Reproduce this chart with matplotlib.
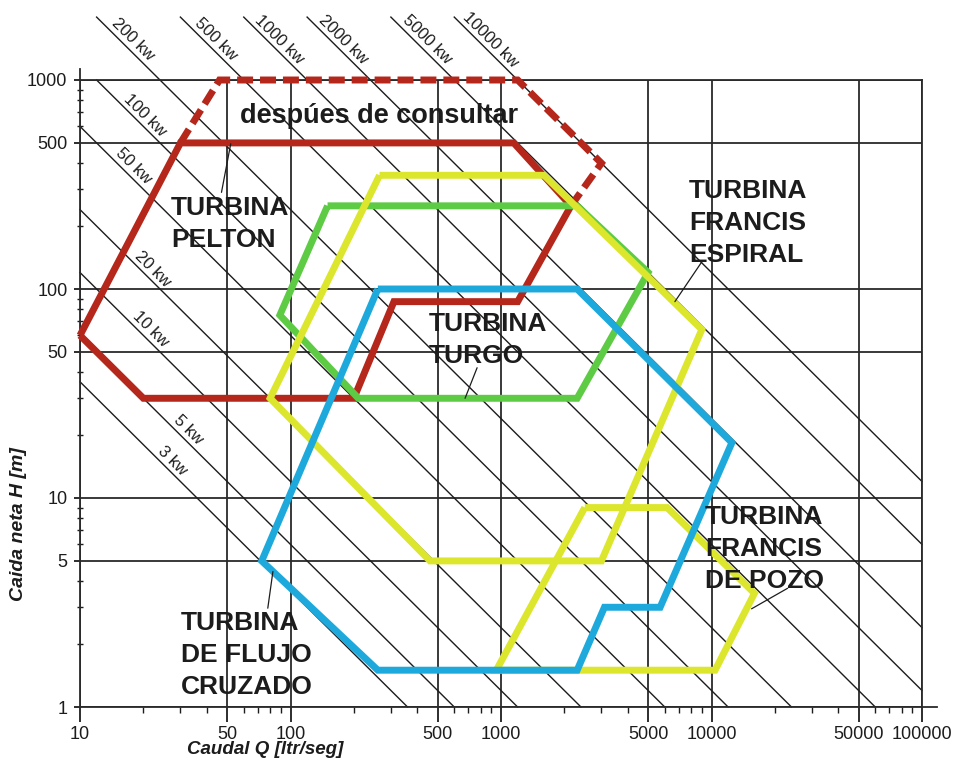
import numpy as np
import matplotlib
matplotlib.use("Agg")
import matplotlib.pyplot as plt
from matplotlib.ticker import LogLocator, NullFormatter, FixedLocator

plt.rcParams['font.family'] = ['Liberation Sans', 'DejaVu Sans']

W, H = 958, 766

# ---- data -------------------------------------------------------------
# power iso-lines in kW, P = 9.81 * eta * Q[l/s] * H[m] / 1000
power_kw = [3, 5, 10, 20, 50, 100, 200, 500, 1000, 2000, 5000, 10000]
eta = 0.85
# Q position (l/s) of the labels drawn inside the plot area
inner_label_q = {3: 25.6, 5: 30.5, 10: 20.1, 20: 20.6, 50: 16.7, 100: 19.0}
top_label_h = 1450      # head at which the upper labels sit
top_line_h = 2000       # upper lines run out above the frame up to this head

x_ticks = [10, 50, 100, 500, 1000, 5000, 10000, 50000, 100000]
x_tick_labels = ['10', '50', '100', '500', '1000', '5000', '10000', '50000', '100000']
y_ticks = [1, 5, 10, 50, 100, 500, 1000]
y_tick_labels = ['1', '5', '10', '50', '100', '500', '1000']

# application ranges (Q in l/s, H in m)
pelton_q = [10, 30, 1150, 2150, 1200, 310, 200, 20, 10]
pelton_h = [60, 500, 500, 250, 87, 87, 30, 30, 60]
pelton_ext_q = [30, 46, 1200, 3000, 2150]
pelton_ext_h = [500, 1000, 1000, 400, 250]

turgo_q = [150, 2300, 5000, 2300, 210, 89, 150]
turgo_h = [250, 250, 120, 30, 30, 75, 250]

espiral_q = [265, 1600, 9000, 3000, 460, 80, 265]
espiral_h = [350, 350, 64, 5, 5, 30, 350]

pozo_q = [2500, 6150, 16000, 10400, 950, 2500]
pozo_h = [9, 9, 3.5, 1.5, 1.5, 9]

flujo_q = [260, 2300, 12500, 5700, 3100, 2300, 260, 73, 260]
flujo_h = [100, 100, 18.4, 3, 3, 1.5, 1.5, 5, 100]

RED = '#B5261B'
YELLOW = '#DCE62C'
GREEN = '#5ECB45'
BLUE = '#1EA9DD'
INK = '#1c1c1c'

# ---- figure -------------------------------------------------------------
fig = plt.figure(figsize=(W / 100, H / 100), dpi=100)
ax = fig.add_axes([80 / W, 59 / H, 842 / W, 627 / H])
ax.set_xscale('log')
ax.set_yscale('log')
ax.set_xlim(10, 1e5)
ax.set_ylim(1, 1000)

ax.xaxis.set_major_locator(FixedLocator(x_ticks))
ax.set_xticklabels(x_tick_labels)
ax.yaxis.set_major_locator(FixedLocator(y_ticks))
ax.set_yticklabels(y_tick_labels)
for axis in (ax.xaxis, ax.yaxis):
    axis.set_minor_locator(LogLocator(base=10, subs=[2, 3, 4, 6, 7, 8, 9]))
    axis.set_minor_formatter(NullFormatter())

ax.tick_params(axis='x', which='major', length=11, width=1.3, direction='out',
               pad=3, labelsize=13, colors=INK)
ax.tick_params(axis='y', which='major', length=4, width=1.3, direction='out',
               pad=5, labelsize=13, colors=INK)
ax.tick_params(axis='x', which='minor', length=4, width=1.0, direction='out', color=INK)
ax.tick_params(axis='y', which='minor', length=5, width=1.0, direction='inout', color=INK)

ax.grid(True, which='major', color='#2a2a2a', lw=1.3)
ax.grid(False, which='minor')
for sp in ax.spines.values():
    sp.set_color('#2a2a2a')
    sp.set_linewidth(1.3)

# short axis run-outs
ax.plot([1, 1.018], [0, 0], transform=ax.transAxes, color='#2a2a2a', lw=1.3, clip_on=False)
ax.plot([0, 0], [1, 1.018], transform=ax.transAxes, color='#2a2a2a', lw=1.3, clip_on=False)

# ---- power lines -------------------------------------------------------
k = 9.81 * eta / 1000.0
p0 = ax.transData.transform((10, 1000))
p1 = ax.transData.transform((100, 100))
angle = np.degrees(np.arctan2(p1[1] - p0[1], p1[0] - p0[0]))
perp = np.radians(angle + 90)
off = (1.2 * np.cos(perp), 1.2 * np.sin(perp))

for p in power_kw:
    c = p / k
    if p >= 200:
        q_start = c / top_line_h
    else:
        q_start = max(10.0, c / 1000.0)
    q_end = min(c, 1e5)
    qs = np.array([q_start, q_end])
    ax.plot(qs, c / qs, color=INK, lw=1.0, clip_on=False, zorder=2)
    if p in inner_label_q:
        ql = inner_label_q[p]
    else:
        ql = c / top_label_h
    ax.annotate(f'{p} kw', xy=(ql, c / ql), xytext=off, textcoords='offset points',
                rotation=angle, rotation_mode='anchor', ha='center', va='bottom',
                fontsize=12, color=INK, annotation_clip=False, zorder=3)

# ---- turbine ranges ------------------------------------------------------
style = dict(lw=5, solid_joinstyle='miter', solid_capstyle='butt', clip_on=False)
ax.plot(pelton_ext_q, pelton_ext_h, color=RED, lw=5, linestyle=(0, (2.3, 1.0)),
        dash_capstyle='butt', dash_joinstyle='miter', clip_on=False, zorder=4)
ax.plot(pelton_q, pelton_h, color=RED, zorder=4, **style)
ax.plot(turgo_q, turgo_h, color=GREEN, zorder=5, **style)
ax.plot(espiral_q, espiral_h, color=YELLOW, zorder=6, **style)
ax.plot(pozo_q, pozo_h, color=YELLOW, zorder=6, **style)
ax.plot(flujo_q, flujo_h, color=BLUE, zorder=7, **style)

# leader lines from the labels to their ranges
leaders = [((47, 290), (52, 495)),
           ((770, 42), (675, 30)),
           ((9000, 135), (6700, 87)),
           ((23000, 3.7), (15500, 2.95)),
           ((78, 2.97), (82.5, 4.45))]
for start, end in leaders:
    ax.annotate('', xy=end, xytext=start,
                arrowprops=dict(arrowstyle='-', color=INK, lw=0.9, shrinkA=0, shrinkB=0),
                zorder=8)

# ---- texts ---------------------------------------------------------------
def fpos(x, y):
    return x / W, 1 - y / H

big = dict(fontsize=19, fontweight='bold', color=INK, ha='left', va='top', linespacing=1.43)
fig.text(*fpos(171, 196), 'TURBINA\nPELTON', **big)
fig.text(*fpos(429, 312), 'TURBINA\nTURGO', **big)
fig.text(*fpos(689, 179), 'TURBINA\nFRANCIS\nESPIRAL', **big)
fig.text(*fpos(705, 505), 'TURBINA\nFRANCIS\nDE POZO', **big)
fig.text(*fpos(181, 611), 'TURBINA\nDE FLUJO\nCRUZADO', **big)
fig.text(*fpos(379, 116), 'despúes de consultar', fontsize=19.5, fontweight='bold',
         color=INK, ha='center', va='center')

fig.text(*fpos(265, 750), 'Caudal Q [ltr/seg]', fontsize=13.5, fontweight='bold',
         fontstyle='italic', color=INK, ha='center', va='center')
fig.text(*fpos(19, 524), 'Caida neta H [m]', fontsize=14, fontweight='bold',
         fontstyle='italic', color=INK, ha='center', va='center', rotation=90)

fig.savefig('out.png', dpi=100, facecolor='white')
